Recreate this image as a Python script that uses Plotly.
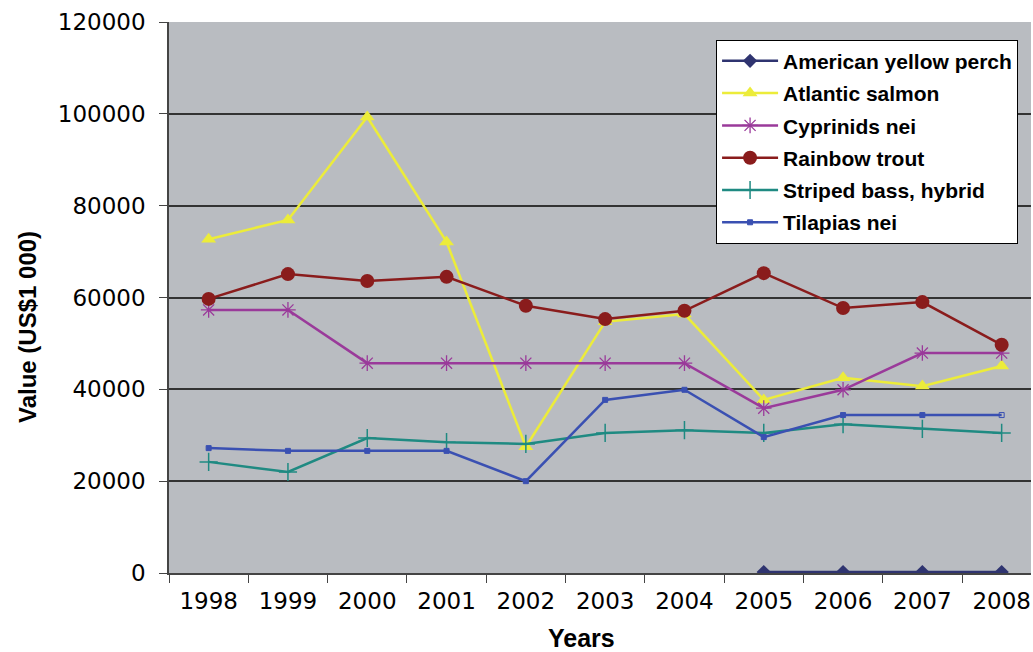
import plotly.graph_objects as go

years = ["1998", "1999", "2000", "2001", "2002", "2003", "2004", "2005", "2006", "2007", "2008"]

yellow_perch = [None, None, None, None, None, None, None, 200, 200, 200, 200]
atlantic_salmon = [72700, 76900, 99300, 72100, 27500, 54700, 56400, 37700, 42500, 40700, 45100]
cyprinids = [57300, 57300, 45700, 45700, 45700, 45700, 45700, 35900, 39900, 47900, 47900]
rainbow_trout = [59700, 65100, 63600, 64500, 58200, 55300, 57100, 65300, 57700, 59000, 49700]
striped_bass = [24200, 22000, 29400, 28500, 28100, 30500, 31100, 30500, 32400, 31400, 30500]
tilapias = [27200, 26600, 26600, 26600, 20000, 37700, 39900, 29600, 34400, 34400, 34400]

series = [
    ("American yellow perch", yellow_perch, "#2f3470",
     dict(symbol="diamond", size=11, color="#2f3470")),
    ("Atlantic salmon", atlantic_salmon, "#ecec3a",
     dict(symbol="triangle-up", size=13, color="#ecec3a")),
    ("Cyprinids nei", cyprinids, "#9a3a9a",
     dict(symbol="asterisk-open", size=13, color="#9a3a9a",
          line=dict(color="#9a3a9a", width=1.3))),
    ("Rainbow trout", rainbow_trout, "#8a1c1c",
     dict(symbol="circle", size=14, color="#8a1c1c")),
    ("Striped bass, hybrid", striped_bass, "#1f8a82",
     dict(symbol="cross-thin-open", size=13, color="#1f8a82",
          line=dict(color="#1f8a82", width=1.5))),
    ("Tilapias nei", tilapias, "#3a50b2",
     dict(symbol=["square"] * 10 + ["square-open"], size=5, color="#3a50b2",
          line=dict(color="#3a50b2", width=1))),
]

fig = go.Figure()
for name, vals, col, mk in series:
    fig.add_trace(go.Scatter(
        x=years, y=vals, name=name, mode="lines+markers",
        line=dict(color=col, width=2.5), marker=mk,
        legendgroup=name, connectgaps=False,
    ))

bold_font = "Liberation Sans, Arial, sans-serif"

fig.update_layout(
    width=1033, height=652,
    margin=dict(l=169, r=2, t=22, b=79),
    paper_bgcolor="white",
    plot_bgcolor="#b9bcc1",
    showlegend=True,
    legend=dict(
        x=0.985, xanchor="right", y=0.968, yanchor="top",
        bgcolor="white", bordercolor="black", borderwidth=1,
        font=dict(family=bold_font, size=21, color="black", weight="bold"),
        itemwidth=56, tracegroupgap=2, traceorder="grouped",
        entrywidth=320, entrywidthmode="pixels",
    ),
    font=dict(family="DejaVu Sans", color="black"),
)

fig.update_xaxes(
    type="category", range=[-0.5, 10.37],
    tickson="boundaries", ticks="outside", ticklen=8, tickcolor="#444",
    showline=True, linecolor="#444", linewidth=1.5,
    showgrid=False, zeroline=False,
    tickfont=dict(family="DejaVu Sans", size=23, color="black"),
    ticklabelstandoff=7,
)
fig.update_yaxes(
    range=[0, 120000], dtick=20000, tickformat="d",
    ticks="outside", ticklen=8, tickcolor="#444",
    showline=True, linecolor="#444", linewidth=1.5,
    showgrid=True, gridcolor="#333333", gridwidth=1.5,
    zeroline=False,
    tickfont=dict(family="DejaVu Sans", size=23, color="black"),
    ticklabelstandoff=9,
)

fig.add_annotation(
    text="Value (US$1 000)", xref="paper", yref="paper",
    x=(27 - 169) / 862, y=(573 - 327) / 551, textangle=-90,
    showarrow=False, xanchor="center", yanchor="middle",
    font=dict(family=bold_font, size=24, color="black", weight="bold"),
)
fig.add_annotation(
    text="Years", xref="paper", yref="paper",
    x=(581 - 169) / 862, y=-(638 - 573) / 551,
    showarrow=False, xanchor="center", yanchor="middle",
    font=dict(family=bold_font, size=25, color="black", weight="bold"),
)

fig.write_html("out.html")
